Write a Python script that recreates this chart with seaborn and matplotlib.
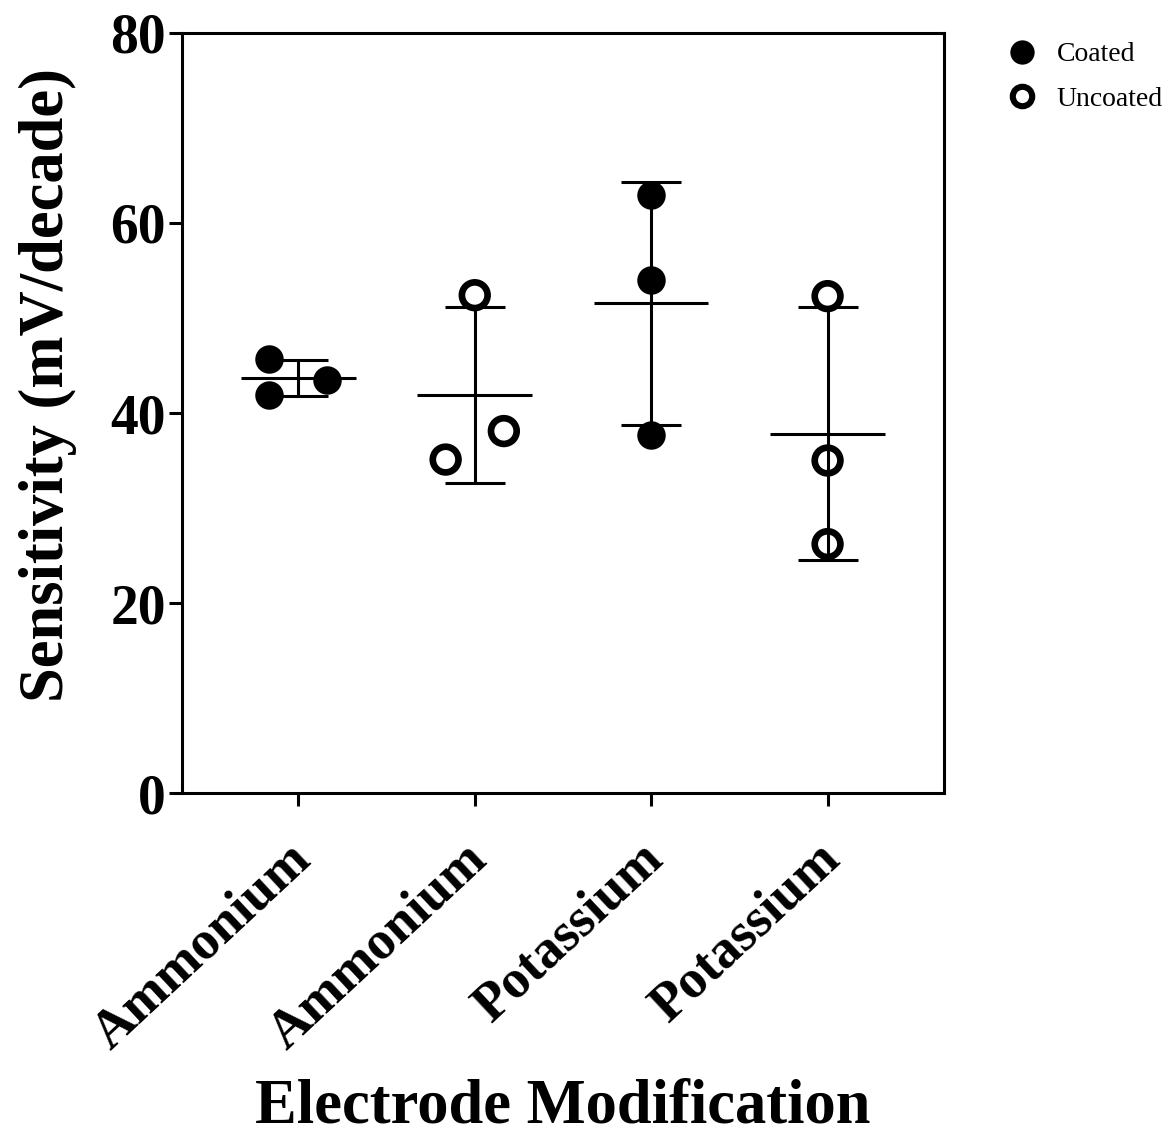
import numpy as np
import pandas as pd
import matplotlib
matplotlib.use("Agg")
import matplotlib.pyplot as plt
import matplotlib.transforms as mtransforms
from matplotlib.lines import Line2D
import seaborn as sns

# ---- data ----
group_labels = ["Ammonium", "Ammonium", "Potassium", "Potassium"]
group_coating = ["Coated", "Uncoated", "Coated", "Uncoated"]
ammonium_coated = [45.7, 41.9, 43.5]
ammonium_uncoated = [52.4, 35.1, 38.1]
potassium_coated = [62.9, 54.0, 37.7]
potassium_uncoated = [52.3, 35.0, 26.2]
y_ticks = [0, 20, 40, 60, 80]

series = [ammonium_coated, ammonium_uncoated, potassium_coated, potassium_uncoated]

# ---- style ----
sns.set_theme(style="ticks")
plt.rcParams["font.family"] = ["Liberation Serif", "DejaVu Serif"]
plt.rcParams["font.weight"] = "bold"
for key in ["text.color", "axes.labelcolor", "xtick.color", "ytick.color",
            "axes.edgecolor"]:
    plt.rcParams[key] = "black"

LW = 2.2          # line width in points (~3 px)
STEP = 0.33       # horizontal swarm step (category units)
GAP = 3.4         # collision distance in data units


def swarm_offsets(values, gap=GAP, step=STEP):
    """Simple centred beeswarm: points closer than `gap` are put side by side."""
    v_all = np.asarray(values, dtype=float)
    order = np.argsort(v_all)
    v = v_all[order]
    offs = np.zeros(len(v))
    clusters, cur = [], [0]
    for i in range(1, len(v)):
        if v[i] - v[i - 1] < gap:
            cur.append(i)
        else:
            clusters.append(cur)
            cur = [i]
    clusters.append(cur)
    for cl in clusters:
        placed = []
        for i in cl:
            for c in [0, 1, -1, 2, -2, 3, -3]:
                if all(not (pc == c and abs(v[i] - pv) < gap) for pc, pv in placed):
                    break
            placed.append((c, v[i]))
            offs[i] = c * step
        sub = offs[cl]
        offs[cl] = sub - (sub.max() + sub.min()) / 2
    out = np.empty_like(offs)
    out[order] = offs
    return out


rows = []
for gi, vals in enumerate(series):
    offs = swarm_offsets(vals)
    for v, o in zip(vals, offs):
        rows.append({"group": gi, "x": gi + o, "value": v,
                     "Coating": group_coating[gi]})
df = pd.DataFrame(rows)

fig = plt.figure(figsize=(11.66, 11.37), dpi=100)
ax = fig.add_axes([0.156, 0.3025, 0.6536, 0.6685])

# mean +- SD
means = np.array([np.mean(s) for s in series])
sds = np.array([np.std(s, ddof=1) for s in series])
xs = np.arange(len(series))
ax.errorbar(xs, means, yerr=sds, fmt="none", ecolor="black",
            elinewidth=LW, capsize=21.5, capthick=LW, zorder=3)
ax.hlines(means, xs - 0.325, xs + 0.325, colors="black", linewidth=LW, zorder=3)

# points
coated = df[df["Coating"] == "Coated"]
uncoated = df[df["Coating"] == "Uncoated"]
sns.scatterplot(data=coated, x="x", y="value", ax=ax, marker="o",
                s=20.5 ** 2, color="black", edgecolor="black", linewidth=0,
                zorder=4, legend=False)
sns.scatterplot(data=uncoated, x="x", y="value", ax=ax, marker="o",
                s=18.5 ** 2, facecolor="none", edgecolor="black", linewidth=4.8,
                zorder=4, legend=False)

ax.set_xlim(-0.66, 3.66)
ax.set_ylim(0, 80)
ax.set_yticks(y_ticks)
ax.set_yticklabels([str(t) for t in y_ticks], fontsize=40, fontweight="bold")
ax.set_xticks(xs)
ax.set_xticklabels([""] * len(xs))

# rotated category labels, anchored below each tick
label_offset = mtransforms.ScaledTranslation(-12 / 100, -41 / 100, fig.dpi_scale_trans)
for xi, lab in zip(xs, group_labels):
    ax.text(xi, 0, lab, transform=ax.get_xaxis_transform() + label_offset,
            fontsize=39, fontweight="bold", rotation=43,
            ha="right", va="top", rotation_mode="anchor", clip_on=False)

for side in ["left", "right", "top", "bottom"]:
    ax.spines[side].set_visible(True)
    ax.spines[side].set_linewidth(LW)
    ax.spines[side].set_color("black")
ax.tick_params(axis="both", width=LW, length=9.5, color="black")
ax.tick_params(axis="y", pad=2)

ax.set_xlabel("Electrode Modification", fontsize=45, fontweight="bold")
ax.xaxis.set_label_coords(0.5, -0.376)
ax.set_ylabel("Sensitivity (mV/decade)", fontsize=45, fontweight="bold")
ax.yaxis.set_label_coords(-0.138, 0.537)

handles = [
    Line2D([], [], linestyle="none", marker="o", markersize=17.5,
           markerfacecolor="black", markeredgecolor="black", markeredgewidth=0),
    Line2D([], [], linestyle="none", marker="o", markersize=14,
           markerfacecolor="none", markeredgecolor="black", markeredgewidth=4.4),
]
fig.legend(handles, ["Coated", "Uncoated"], loc="upper left",
           bbox_to_anchor=(0.843, 0.973), frameon=False,
           prop={"family": "Liberation Serif", "weight": "normal", "size": 20},
           handletextpad=0.25, labelspacing=0.68, borderaxespad=0)

fig.savefig("out.png", dpi=100, facecolor="white")
